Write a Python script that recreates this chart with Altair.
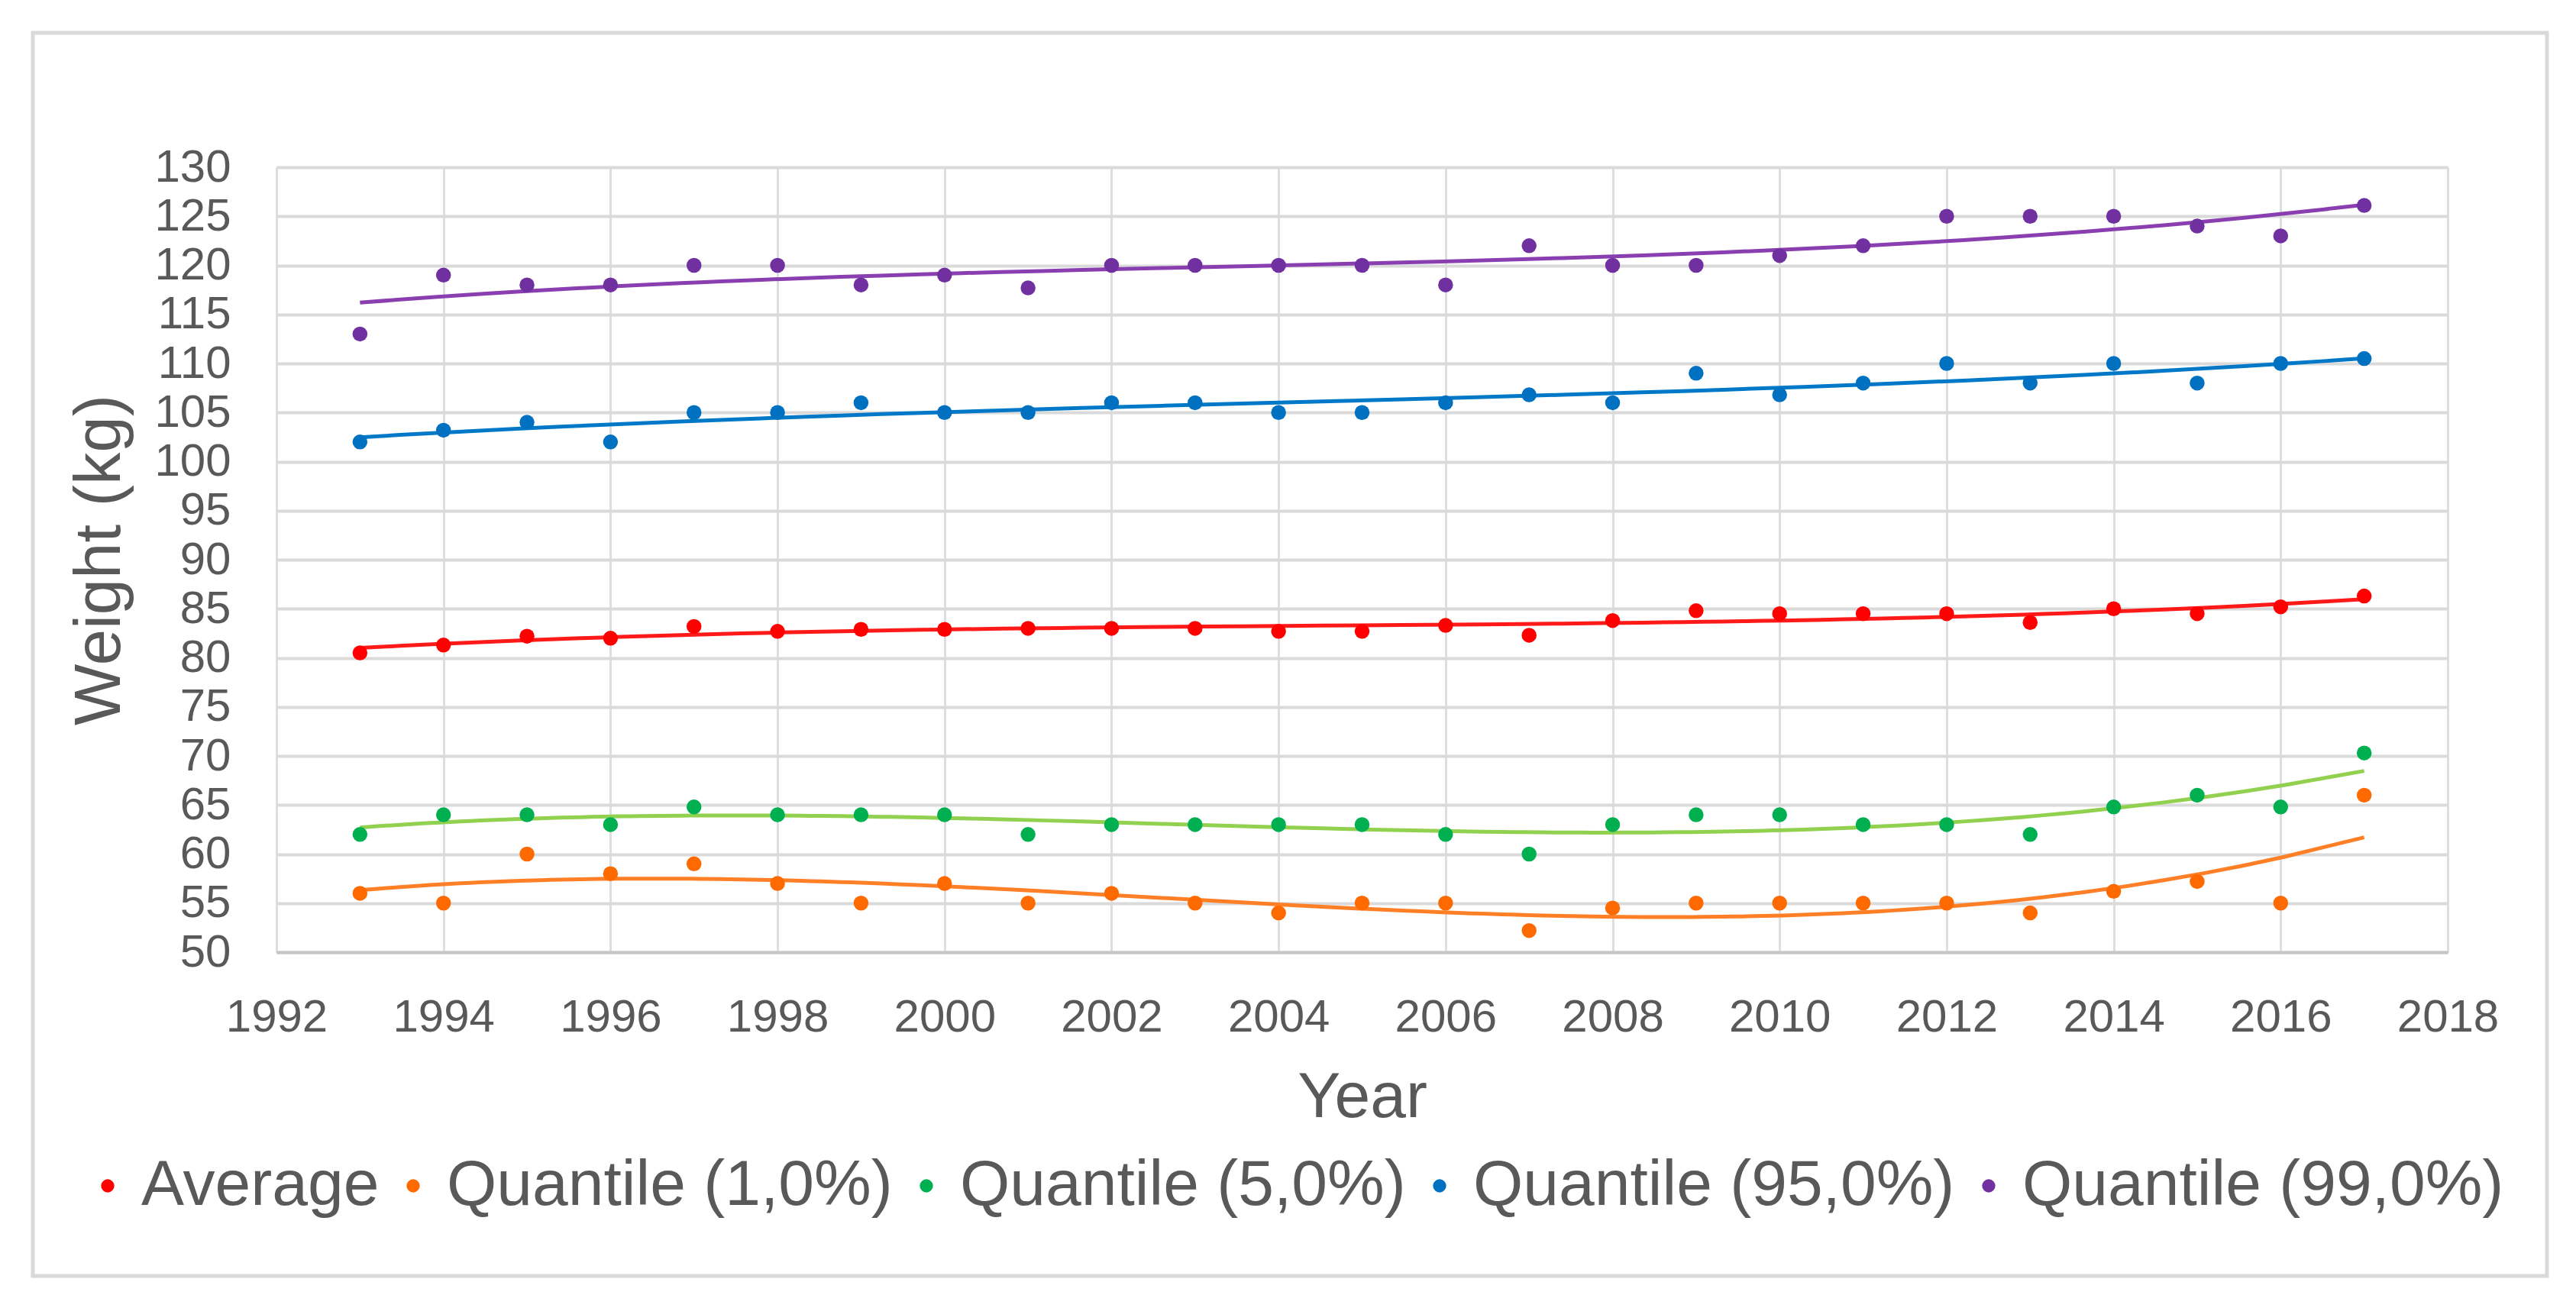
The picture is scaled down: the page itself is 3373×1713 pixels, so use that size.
import altair as alt
import pandas as pd

years = list(range(1993, 2018))
average = [80.5, 81.3, 82.2, 82.0, 83.2, 82.7, 82.9, 82.9, 83.0, 83.0, 83.0, 82.7, 82.7,
           83.3, 82.3, 83.8, 84.8, 84.5, 84.5, 84.5, 83.6, 85.0, 84.5, 85.2, 86.3]
q01 = [56.0, 55.0, 60.0, 58.0, 59.0, 57.0, 55.0, 57.0, 55.0, 56.0, 55.0, 54.0, 55.0,
       55.0, 52.2, 54.5, 55.0, 55.0, 55.0, 55.0, 54.0, 56.2, 57.2, 55.0, 66.0]
q05 = [62.0, 64.0, 64.0, 63.0, 64.8, 64.0, 64.0, 64.0, 62.0, 63.0, 63.0, 63.0, 63.0,
       62.0, 60.0, 63.0, 64.0, 64.0, 63.0, 63.0, 62.0, 64.8, 66.0, 64.8, 70.3]
q95 = [102.0, 103.2, 104.0, 102.0, 105.0, 105.0, 106.0, 105.0, 105.0, 106.0, 106.0, 105.0, 105.0,
       106.0, 106.8, 106.0, 109.0, 106.8, 108.0, 110.0, 108.0, 110.0, 108.0, 110.0, 110.5]
q99 = [113.0, 119.0, 118.0, 118.0, 120.0, 120.0, 118.0, 119.0, 117.7, 120.0, 120.0, 120.0, 120.0,
       118.0, 122.0, 120.0, 120.0, 121.0, 122.0, 125.0, 125.0, 125.0, 124.0, 123.0, 126.1]

series_names = ["Average", "Quantile (1,0%)", "Quantile (5,0%)", "Quantile (95,0%)", "Quantile (99,0%)"]
point_colors = ["#FF0000", "#FF6A00", "#00B050", "#0070C0", "#7030A0"]
line_colors = ["#FF1A1A", "#FF7F27", "#92D050", "#0078C8", "#8A3FB0"]
x_ticks = list(range(1992, 2019, 2))
y_ticks = list(range(50, 131, 5))

rows = []
for name, vals in zip(series_names, [average, q01, q05, q95, q99]):
    for yr, v in zip(years, vals):
        rows.append({"Year": yr, "Weight": v, "Series": name})
df = pd.DataFrame(rows)

FONT = "Liberation Sans"
TXT = "#595959"
PW, PH = 2843, 1028

x_enc = alt.X("Year:Q",
              scale=alt.Scale(domain=[1992, 2018], nice=False, zero=False),
              axis=alt.Axis(values=x_ticks, format="d", title="Year", labelFlush=False,
                            labelFontSize=60, labelPadding=56, labelColor=TXT, labelFont=FONT,
                            titleFontSize=84, titleColor=TXT, titleFont=FONT, titleFontWeight="normal",
                            titleY=190, titleBaseline="middle",
                            ticks=False, tickSize=0,
                            domain=True, domainColor="#c6c6c6", domainWidth=4,
                            grid=True, gridColor="#dedede", gridWidth=3))
y_enc = alt.Y("Weight:Q",
              scale=alt.Scale(domain=[50, 130], nice=False, zero=False),
              axis=alt.Axis(values=y_ticks, title="Weight (kg)", labelFlush=False,
                            labelFontSize=60, labelPadding=60, labelColor=TXT, labelFont=FONT,
                            titleFontSize=85, titleColor=TXT, titleFont=FONT, titleFontWeight="normal",
                            titleX=-232, titleBaseline="middle",
                            ticks=False, tickSize=0, domain=False,
                            grid=True, gridColor="#dadada", gridWidth=4))

base = alt.Chart(df)

points = base.mark_circle(size=380, opacity=1).encode(
    x=x_enc, y=y_enc,
    color=alt.Color("Series:N",
                    scale=alt.Scale(domain=series_names, range=point_colors),
                    legend=alt.Legend(title=None, orient="none", direction="horizontal", columns=5,
                                      legendX=-263, legendY=1292,
                                      labelFontSize=84, labelColor=TXT, labelFont=FONT, labelLimit=2000,
                                      symbolType="circle", symbolSize=300, symbolStrokeWidth=0,
                                      labelOffset=2, columnPadding=2, padding=0)),
)

trend = base.transform_regression(
    "Year", "Weight", groupby=["Series"], method="poly", order=3
).mark_line(strokeWidth=5).encode(
    x="Year:Q", y="Weight:Q",
    color=alt.Color("Series:N", scale=alt.Scale(domain=series_names, range=line_colors), legend=None),
)

frame = alt.Chart(pd.DataFrame({"k": [0]})).mark_rect(
    filled=False, stroke="#d9d9d9", strokeWidth=5
).encode(x=alt.value(-319), x2=alt.value(2973), y=alt.value(-176), y2=alt.value(1452))

chart = alt.layer(frame, trend, points).resolve_scale(color="independent").properties(
    width=PW, height=PH,
    autosize=alt.AutoSizeParams(type="none"),
    padding={"left": 354, "top": 211, "right": 160, "bottom": 450},
    background="white",
).configure_view(stroke=None)

chart.save("out.html", embed_options={"renderer": "svg", "actions": False})
